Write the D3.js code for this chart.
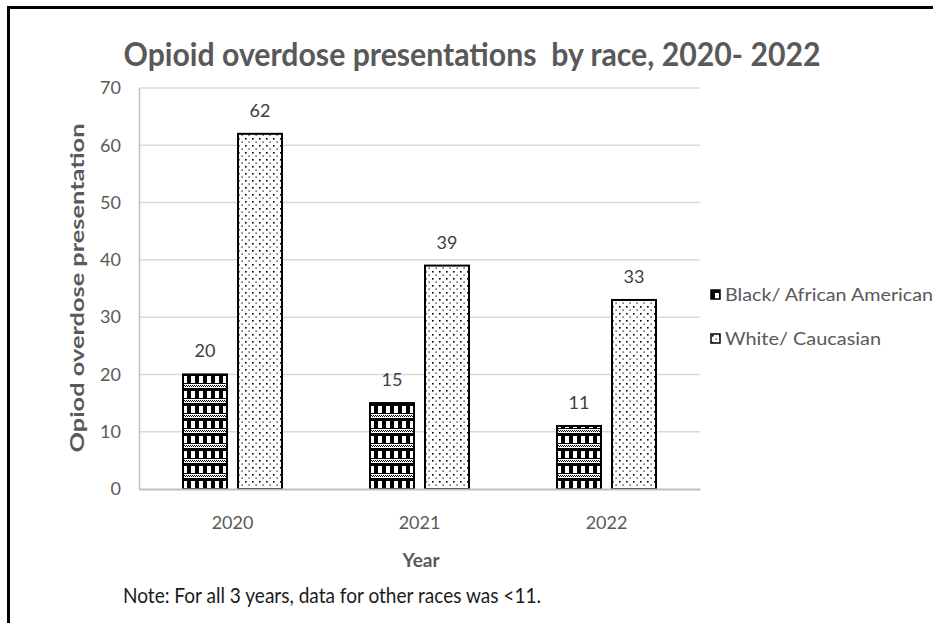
<!DOCTYPE html>
<html>
<head>
<meta charset="utf-8">
<script src="https://cdn.jsdelivr.net/npm/d3@7"></script>
<style>
  html, body { margin: 0; padding: 0; background: #fff; }
  svg { display: block; }
</style>
</head>
<body>
<script>
// Opioid overdose presentations by race, 2020–2022
const years = ["2020", "2021", "2022"];
const seriesNames = ["Black/ African American", "White/ Caucasian"];
const blackValues = [20, 15, 11];
const whiteValues = [62, 39, 33];
const yTicks = [0, 10, 20, 30, 40, 50, 60, 70];

const W = 933, H = 623;
const margin = { left: 139, right: 233, top: 88, bottom: 134 };
const plotW = W - margin.left - margin.right;
const plotH = H - margin.top - margin.bottom;
const FONT = "Lato, 'Open Sans', sans-serif";

const svg = d3.select("body").append("svg").attr("width", W).attr("height", H);

// Fill patterns: dark checker with dotted bands, and sparse dots
const defs = svg.append("defs");
const checker = defs.append("pattern")
  .attr("id", "pat-black").attr("patternUnits", "userSpaceOnUse")
  .attr("width", 8).attr("height", 15);
checker.append("rect").attr("width", 8).attr("height", 15).attr("fill", "#fff");
checker.append("rect").attr("x", 0).attr("y", 0).attr("width", 4).attr("height", 10).attr("fill", "#000");
checker.append("rect").attr("x", 4).attr("y", 0).attr("width", 4).attr("height", 3).attr("fill", "#000");
checker.append("rect").attr("x", 0).attr("y", 10).attr("width", 8).attr("height", 1).attr("fill", "#000");
[[1,12],[3,12],[5,12],[7,12],[0,13],[2,13],[4,13],[6,13]].forEach(([x, y]) =>
  checker.append("rect").attr("x", x).attr("y", y).attr("width", 1).attr("height", 1).attr("fill", "#000"));

const dots = defs.append("pattern")
  .attr("id", "pat-white").attr("patternUnits", "userSpaceOnUse")
  .attr("width", 7).attr("height", 7);
dots.append("rect").attr("width", 7).attr("height", 7).attr("fill", "#fff");
[[1,1,1.6],[4.5,4.5,1.2]].forEach(([x, y, s]) =>
  dots.append("rect").attr("x", x).attr("y", y).attr("width", s).attr("height", s).attr("fill", "#000"));

const fills = ["url(#pat-black)", "url(#pat-white)"];

// Outer frame (top and left edges)
svg.append("path")
  .attr("d", `M8.5,${H} V7.5 H${W}`)
  .attr("fill", "none").attr("stroke", "#000").attr("stroke-width", 3);

const g = svg.append("g").attr("transform", `translate(${margin.left},${margin.top})`);

const x0 = d3.scaleBand().domain(years).range([0, plotW]).paddingInner(0).paddingOuter(0);
const x1 = d3.scaleBand().domain(seriesNames).range([0, x0.bandwidth()]).paddingInner(0.2).paddingOuter(0.8);
const y = d3.scaleLinear().domain([0, 70]).range([plotH, 0]);

// Gridlines
g.append("g").selectAll("line").data(yTicks.filter(d => d > 0)).join("line")
  .attr("x1", 0).attr("x2", plotW)
  .attr("y1", d => y(d)).attr("y2", d => y(d))
  .attr("stroke", "#d9d9d9").attr("stroke-width", 1.5);

// Y axis
const yAxis = g.append("g").call(d3.axisLeft(y).tickValues(yTicks).tickSize(0).tickPadding(18));
yAxis.select(".domain").attr("stroke", "#bfbfbf").attr("stroke-width", 1.5);
yAxis.selectAll("text")
  .attr("font-family", FONT)
  .attr("font-size", 18).attr("fill", "#595959");

// Bars
const data = years.map((yr, i) => ({ year: yr, values: [blackValues[i], whiteValues[i]] }));
const groups = g.append("g").selectAll("g").data(data).join("g")
  .attr("transform", d => `translate(${x0(d.year)},0)`);

groups.selectAll("rect").data(d => d.values.map((v, k) => ({ key: seriesNames[k], v, k }))).join("rect")
  .attr("x", d => x1(d.key)).attr("width", x1.bandwidth())
  .attr("y", d => y(d.v)).attr("height", d => y(0) - y(d.v))
  .attr("fill", d => fills[d.k]).attr("stroke", "#000").attr("stroke-width", 2);

groups.selectAll("text.val").data(d => d.values.map((v, k) => ({ key: seriesNames[k], v }))).join("text")
  .attr("class", "val")
  .attr("x", d => x1(d.key) + x1.bandwidth() / 2)
  .attr("y", d => y(d.v) - 17)
  .attr("text-anchor", "middle")
  .attr("font-family", FONT)
  .attr("font-size", 18).attr("fill", "#404040")
  .text(d => d.v);

// X axis
const xAxis = g.append("g").attr("transform", `translate(0,${plotH})`)
  .call(d3.axisBottom(x0).tickSize(0).tickPadding(27));
xAxis.select(".domain").attr("stroke", "#bfbfbf").attr("stroke-width", 2);
xAxis.selectAll("text")
  .attr("font-family", FONT)
  .attr("font-size", 18).attr("fill", "#595959");

// Title
svg.append("text")
  .attr("x", 472).attr("y", 66).attr("text-anchor", "middle")
  .attr("font-family", FONT)
  .attr("font-weight", "bold").attr("font-size", 32).attr("fill", "#595959")
  .attr("textLength", 697).attr("lengthAdjust", "spacingAndGlyphs")
  .attr("xml:space", "preserve")
  .text("Opioid overdose presentations  by race, 2020- 2022");

// Axis titles
svg.append("text")
  .attr("transform", `translate(84,${288}) rotate(-90)`)
  .attr("text-anchor", "middle")
  .attr("font-family", FONT)
  .attr("font-weight", "bold").attr("font-size", 19).attr("fill", "#595959")
  .attr("textLength", 329).attr("lengthAdjust", "spacingAndGlyphs")
  .text("Opiod overdose presentation");

svg.append("text")
  .attr("x", 421).attr("y", 567).attr("text-anchor", "middle")
  .attr("font-family", FONT)
  .attr("font-weight", "bold").attr("font-size", 19).attr("fill", "#595959")
  .text("Year");

// Note
svg.append("text")
  .attr("x", 123).attr("y", 603)
  .attr("font-family", FONT)
  .attr("font-size", 22).attr("fill", "#1a1a1a")
  .attr("textLength", 418).attr("lengthAdjust", "spacingAndGlyphs")
  .text("Note: For all 3 years, data for other races was <11.");

// Legend
const legend = svg.append("g").attr("transform", "translate(711,290)");
const items = legend.selectAll("g").data(seriesNames).join("g")
  .attr("transform", (d, i) => `translate(0,${i * 44})`);
items.append("rect").attr("width", 9).attr("height", 9)
  .attr("fill", (d, i) => fills[i]).attr("stroke", "#000").attr("stroke-width", 1.5);
items.append("text")
  .attr("x", 14).attr("y", 11)
  .attr("font-family", FONT)
  .attr("font-size", 18).attr("fill", "#595959")
  .attr("textLength", (d, i) => i === 0 ? 208 : 156).attr("lengthAdjust", "spacingAndGlyphs")
  .text(d => d);
</script>
</body>
</html>
